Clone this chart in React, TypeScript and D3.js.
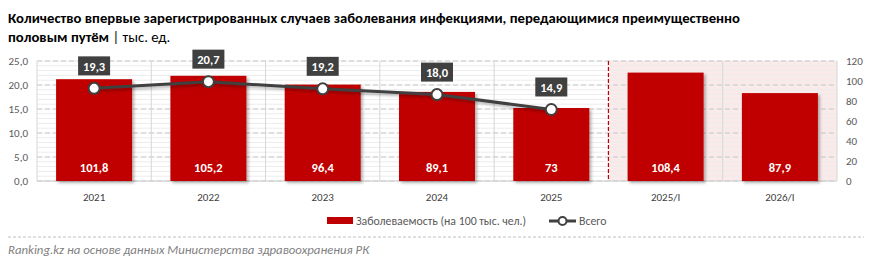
import React from 'react'
import * as d3 from 'd3'

const categories = ['2021', '2022', '2023', '2024', '2025', '2025/I', '2026/I']
const rateValues = [101.8, 105.2, 96.4, 89.1, 73, 108.4, 87.9]
const totalValues = [19.3, 20.7, 19.2, 18.0, 14.9]
const leftTicks = [0, 5, 10, 15, 20, 25]
const rightTicks = [0, 20, 40, 60, 80, 100, 120]

const W = 872
const H = 267
const left = 37
const right = 837
const top = 61
const bottom = 181

const fmt = (v: number) => (Number.isInteger(v) && v === 73 ? '73' : v.toFixed(1).replace('.', ','))

const App = () => {
  const x = d3.scaleBand().domain(categories).range([left, right]).paddingInner(0.335).paddingOuter(0.167)
  const band = (right - left) / categories.length
  const yL = d3.scaleLinear().domain([0, 25]).range([bottom, top])
  const yR = d3.scaleLinear().domain([0, 120]).range([bottom, top])
  const minor = d3.range(0, 26, 1)
  const shadeStart = left + band * 5

  const line = d3
    .line<number>()
    .x((_, i) => x(categories[i])! + x.bandwidth() / 2)
    .y(d => yL(d))

  const font = 'Calibri, "Liberation Sans Narrow", "Open Sans", sans-serif'

  return (
    <svg width={W} height={H} style={{ position: 'absolute', left: 0, top: 0 }} fontFamily={font}>
      <defs>
        <filter id="sh" x="-20%" y="-20%" width="150%" height="150%">
          <feDropShadow dx="2" dy="2" stdDeviation="1.5" floodColor="#000" floodOpacity="0.3" />
        </filter>
      </defs>
      <text x={8} y={23} fontSize={14.7} fontWeight="bold" fill="#000">
        Количество впервые зарегистрированных случаев заболевания инфекциями, передающимися преимущественно
      </text>
      <text x={8} y={42} fontSize={14.7} fill="#000">
        <tspan fontWeight="bold">половым путём</tspan> | тыс. ед.
      </text>

      {/* shaded forecast area */}
      <rect x={shadeStart} y={top} width={right - shadeStart} height={bottom - top} fill="#fbeaea" />

      {/* minor gridlines */}
      {minor.map(v => (
        <line key={'m' + v} x1={left} x2={right} y1={yL(v)} y2={yL(v)} stroke="#ececec" strokeWidth={1} />
      ))}
      {/* major dashed */}
      {leftTicks.map(v => (
        <line key={'g' + v} x1={left} x2={right} y1={yL(v)} y2={yL(v)} stroke="#c8c8c8" strokeDasharray="5,3" />
      ))}
      {categories.map((c, i) =>
        i > 0 && i !== 5 ? (
          <line key={'v' + c} x1={left + band * i} x2={left + band * i} y1={top} y2={bottom} stroke="#d6d6d6" />
        ) : null
      )}
      <line x1={left} x2={left} y1={top} y2={bottom} stroke="#d6d6d6" />
      <line x1={right} x2={right} y1={top} y2={bottom} stroke="#d6d6d6" />
      <line x1={shadeStart} x2={shadeStart} y1={top} y2={bottom} stroke="#c00000" strokeDasharray="4,2" strokeWidth={1.2} />
      <line x1={left} x2={right} y1={bottom} y2={bottom} stroke="#d0d0d0" />

      {/* bars */}
      {rateValues.map((v, i) => (
        <rect
          key={'b' + i}
          x={x(categories[i])}
          y={yR(v)}
          width={x.bandwidth()}
          height={bottom - yR(v)}
          fill="#c00000"
          filter="url(#sh)"
        />
      ))}
      {rateValues.map((v, i) => (
        <text
          key={'bl' + i}
          x={x(categories[i])! + x.bandwidth() / 2}
          y={bottom - 9}
          textAnchor="middle"
          fontSize={12.5}
          fontWeight="bold"
          fill="#fff"
        >
          {fmt(v)}
        </text>
      ))}

      {/* line */}
      <path d={line(totalValues)!} fill="none" stroke="#404040" strokeWidth={3} filter="url(#sh)" />
      {totalValues.map((v, i) => (
        <circle
          key={'c' + i}
          cx={x(categories[i])! + x.bandwidth() / 2}
          cy={yL(v)}
          r={5.5}
          fill="#fff"
          stroke="#404040"
          strokeWidth={2}
        />
      ))}
      {totalValues.map((v, i) => {
        const cx = x(categories[i])! + x.bandwidth() / 2
        const cy = yL(v) - 22
        return (
          <g key={'l' + i}>
            <rect x={cx - 16} y={cy - 10} width={32} height={19} fill="#404040" />
            <text x={cx} y={cy + 4.5} textAnchor="middle" fontSize={12.5} fontWeight="bold" fill="#fff">
              {fmt(v)}
            </text>
          </g>
        )
      })}

      {/* axes labels */}
      {leftTicks.map(v => (
        <text key={'lt' + v} x={28} y={yL(v) + 4} textAnchor="end" fontSize={11} fill="#595959">
          {v.toFixed(1).replace('.', ',')}
        </text>
      ))}
      {rightTicks.map(v => (
        <text key={'rt' + v} x={846} y={yR(v) + 4} textAnchor="start" fontSize={11} fill="#595959">
          {v}
        </text>
      ))}
      {categories.map(c => (
        <text key={'x' + c} x={x(c)! + x.bandwidth() / 2} y={201} textAnchor="middle" fontSize={11} fill="#404040">
          {c}
        </text>
      ))}

      {/* legend */}
      <rect x={327} y={217} width={26} height={7} fill="#c00000" />
      <text x={356} y={225} fontSize={11.8} fill="#595959">
        Заболеваемость (на 100 тыс. чел.)
      </text>
      <line x1={549} x2={576} y1={221} y2={221} stroke="#404040" strokeWidth={3} />
      <circle cx={562.5} cy={221} r={4} fill="#fff" stroke="#404040" strokeWidth={2} />
      <text x={579} y={225} fontSize={11.8} fill="#595959">
        Всего
      </text>

      <line x1={8} x2={864} y1={237} y2={237} stroke="#bfbfbf" strokeDasharray="3,2" />
      <text x={8} y={254} fontSize={12.8} fontStyle="italic" fill="#7f7f7f">
        Ranking.kz на основе данных Министерства здравоохранения РК
      </text>
    </svg>
  )
}

export default App
